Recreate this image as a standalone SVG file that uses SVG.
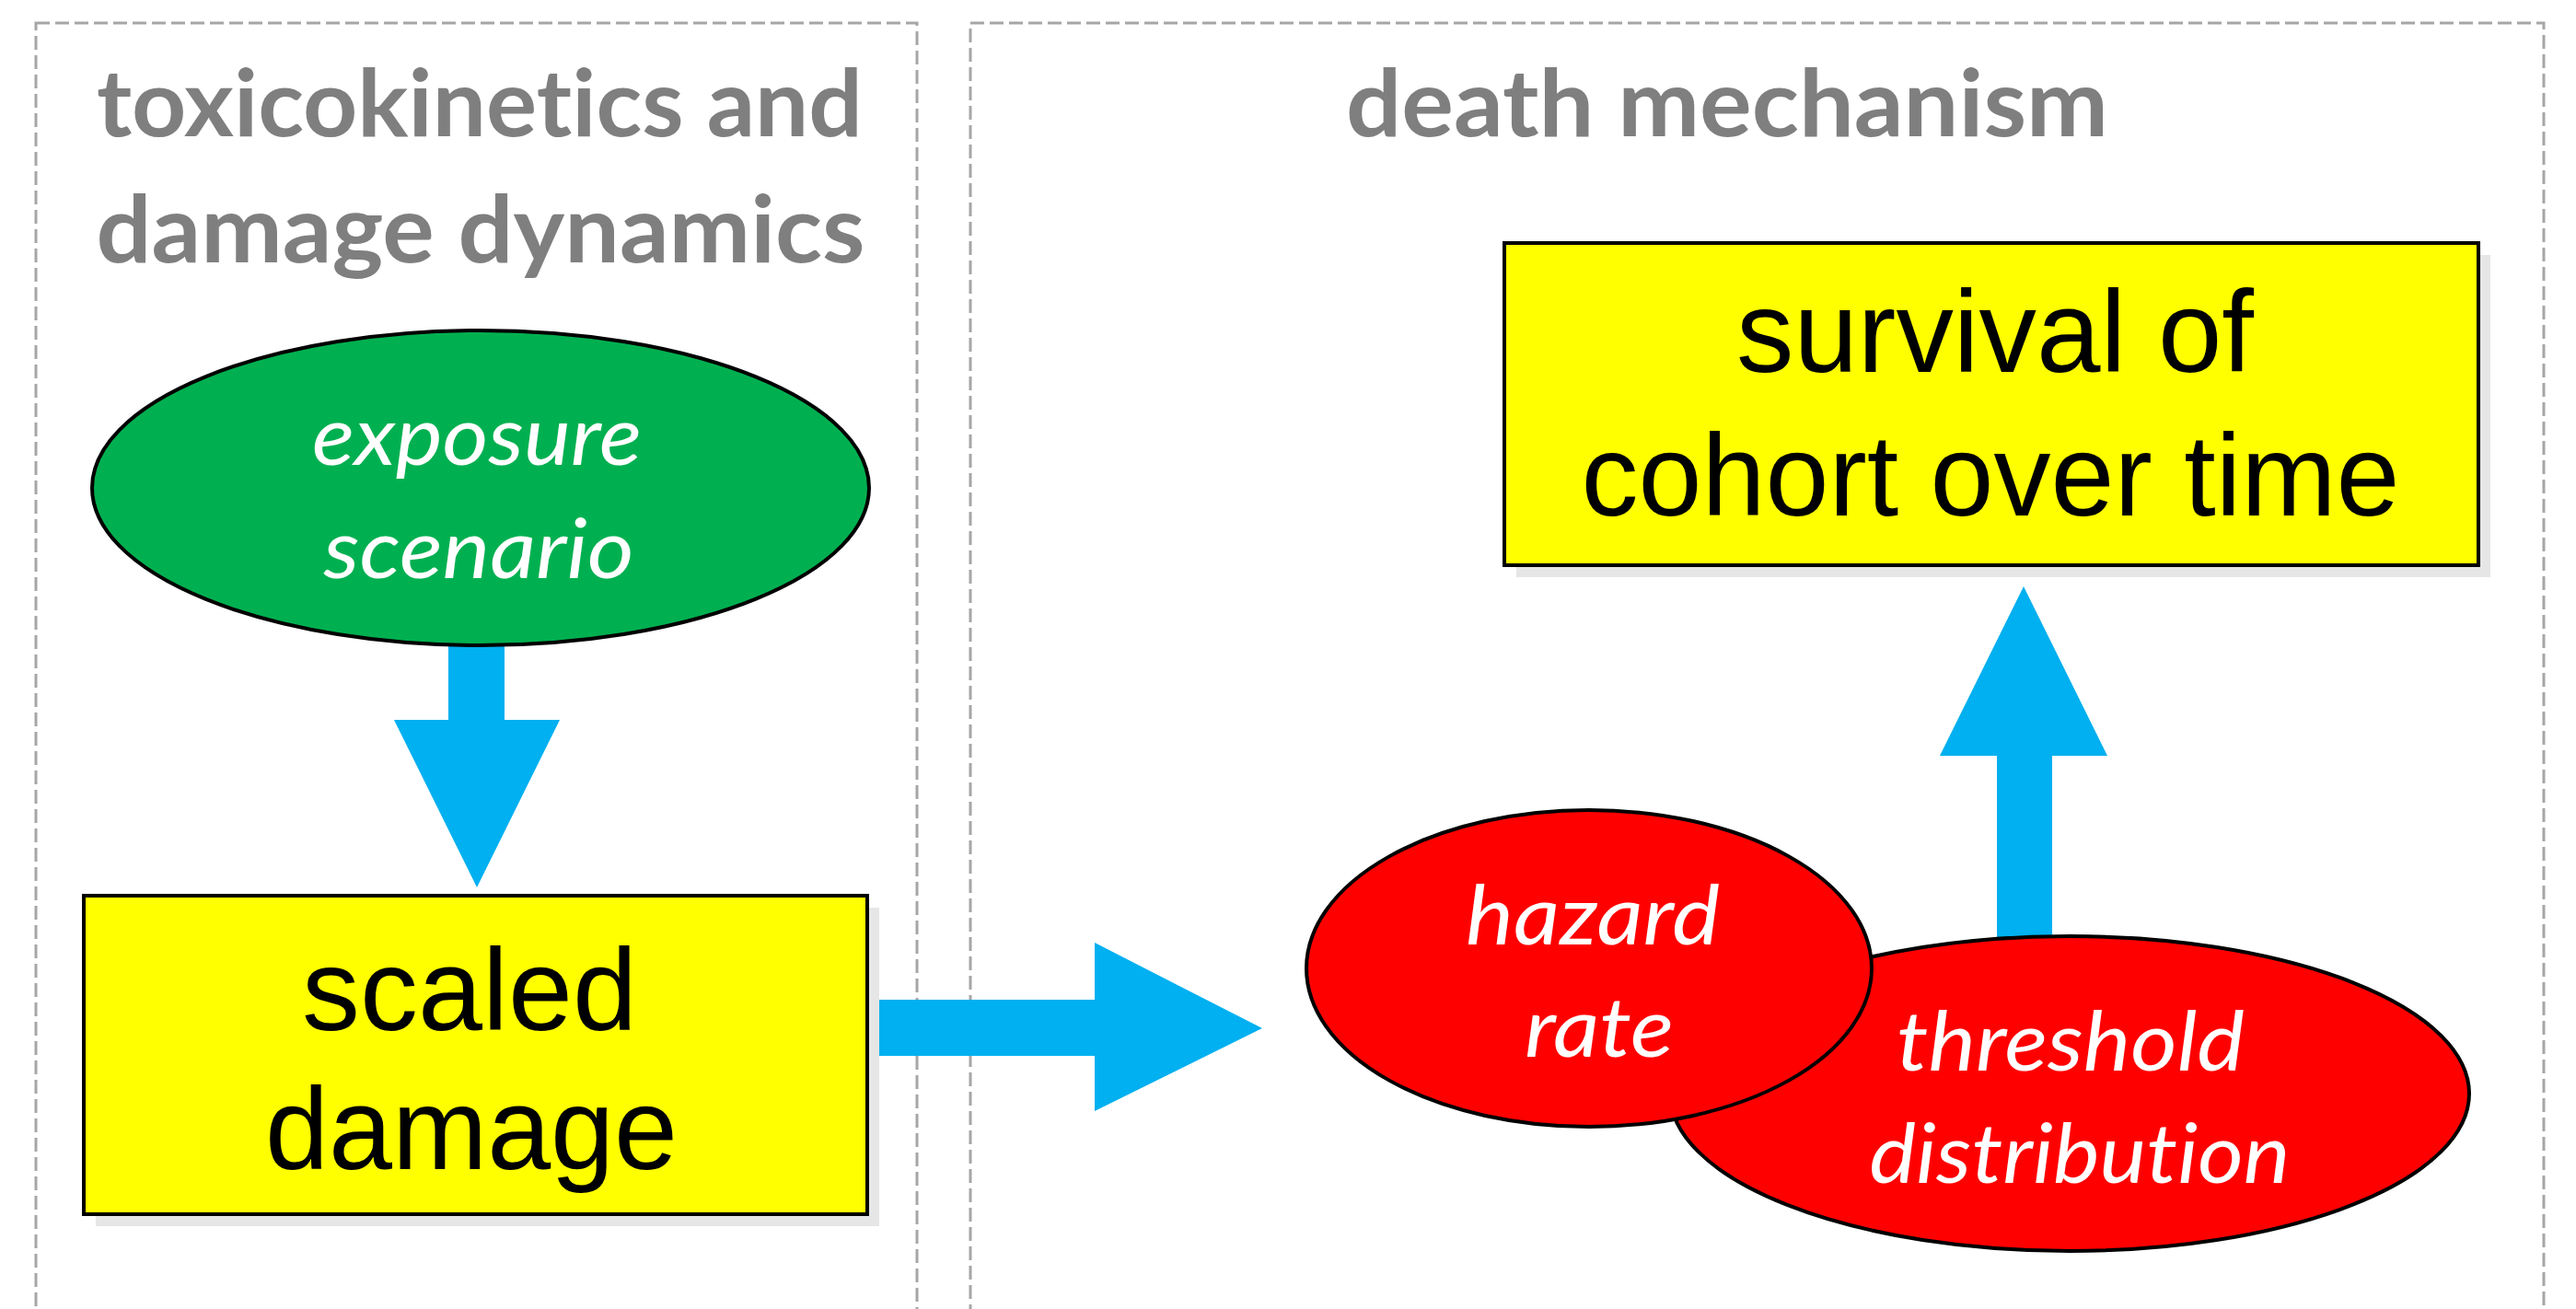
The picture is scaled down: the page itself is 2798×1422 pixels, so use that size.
<svg xmlns="http://www.w3.org/2000/svg" width="2798" height="1422" viewBox="0 0 2798 1422">
<style>
text{font-variant-ligatures:none;font-feature-settings:"liga" 0,"clig" 0}
.panel{fill:none;stroke:#a6a6a6;stroke-width:3;stroke-dasharray:15 6}
.title{font-family:Lato,"Open Sans",sans-serif;font-weight:bold;font-size:102px;fill:#7f7f7f;text-anchor:middle}
.box{fill:#ffff00;stroke:#000;stroke-width:4}
.shadow{fill:#e6e6e6}
.boxtext{font-family:"Liberation Sans",Arial,sans-serif;font-size:127px;fill:#000;text-anchor:middle}
.oval{stroke:#000;stroke-width:4}
.ovaltext{font-family:Lato,"Open Sans",sans-serif;font-style:italic;font-size:90px;fill:#fff;text-anchor:middle}
.arrow{fill:#00b0f0}
</style>
<rect width="2798" height="1422" fill="#fff"/>
<g id="panel-left">
<rect class="panel" x="39" y="25" width="957" height="1420"/>
<text class="title" x="521" y="148" textLength="832" lengthAdjust="spacingAndGlyphs">toxicokinetics and</text>
<text class="title" x="522" y="285" textLength="835" lengthAdjust="spacingAndGlyphs">damage dynamics</text>
</g>
<g id="panel-right">
<rect class="panel" x="1054" y="25" width="1709" height="1420"/>
<text class="title" x="1876" y="148" textLength="828" lengthAdjust="spacingAndGlyphs">death mechanism</text>
</g>
<g id="connectors">
<polygon class="arrow" points="487,690 548,690 548,782 608,782 518,964 428,782 487,782"/>
<polygon class="arrow" points="955,1086 1189,1086 1189,1024 1371,1117 1189,1207 1189,1147 955,1147"/>
<polygon class="arrow" points="2169,1040 2169,821 2107,821 2198,637 2289,821 2229,821 2229,1040"/>
</g>
<g id="exposure-scenario">
<ellipse class="oval" cx="522" cy="530" rx="422" ry="171" fill="#00b050"/>
<text class="ovaltext" x="518" y="505" textLength="358" lengthAdjust="spacingAndGlyphs">exposure</text>
<text class="ovaltext" x="520" y="628" textLength="337" lengthAdjust="spacingAndGlyphs">scenario</text>
</g>
<g id="scaled-damage">
<rect class="shadow" x="104" y="986" width="851" height="346"/>
<rect class="box" x="91" y="973" width="851" height="346"/>
<text class="boxtext" x="510" y="1119" textLength="364" lengthAdjust="spacingAndGlyphs">scaled</text>
<text class="boxtext" x="512" y="1270" textLength="448" lengthAdjust="spacingAndGlyphs">damage</text>
</g>
<g id="survival">
<rect class="shadow" x="1647" y="277" width="1058" height="350"/>
<rect class="box" x="1634" y="264" width="1058" height="350"/>
<text class="boxtext" x="2167" y="404" textLength="562" lengthAdjust="spacingAndGlyphs">survival of</text>
<text class="boxtext" x="2162" y="560" textLength="889" lengthAdjust="spacingAndGlyphs">cohort over time</text>
</g>
<g id="threshold-distribution">
<ellipse class="oval" cx="2248" cy="1188" rx="434" ry="171" fill="#ff0000"/>
<text class="ovaltext" x="2249" y="1163" textLength="378" lengthAdjust="spacingAndGlyphs">threshold</text>
<text class="ovaltext" x="2259" y="1285" textLength="457" lengthAdjust="spacingAndGlyphs">distribution</text>
</g>
<g id="hazard-rate">
<ellipse class="oval" cx="1726" cy="1052" rx="307" ry="172" fill="#ff0000"/>
<text class="ovaltext" x="1730" y="1026" textLength="276" lengthAdjust="spacingAndGlyphs">hazard</text>
<text class="ovaltext" x="1737" y="1148" textLength="162" lengthAdjust="spacingAndGlyphs">rate</text>
</g>
</svg>
